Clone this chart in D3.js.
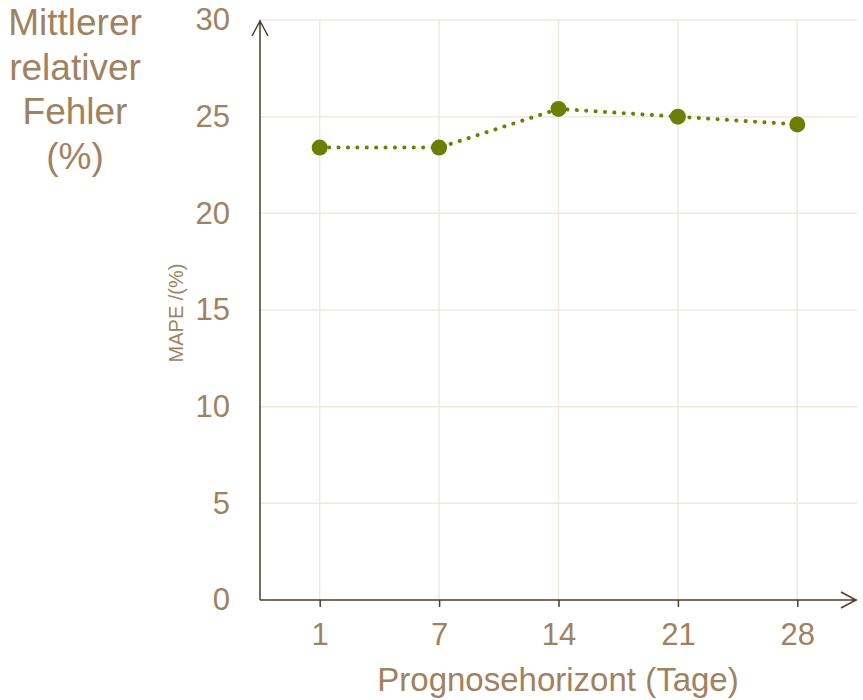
<!DOCTYPE html>
<html><head><meta charset="utf-8">
<script src="https://cdn.jsdelivr.net/npm/d3@7"></script>
<style>body{margin:0;background:#fff}svg{display:block}</style>
</head><body>
<script>
const categories = ["1","7","14","21","28"];
const values = [23.4, 23.4, 25.4, 25.0, 24.6];
const yTicks = [0,5,10,15,20,25,30];
const titleLines = ["Mittlerer","relativer","Fehler","(%)"];
const xTitle = "Prognosehorizont (Tage)";
const yInnerTitle = "MAPE /(%)";

const W=863,H=700;
const textC="#a0825f", axisC="#4b3d2f", gridC="#efe9e2", lineC="#6b7f00";
const font="Arial, 'Liberation Sans', sans-serif";
const svg=d3.select("body").append("svg").attr("width",W).attr("height",H);
const x0=260,x1=857,yTop=20,yBot=600;
const x=d3.scalePoint().domain(categories).range([x0,x1]).padding(0.5);
const y=d3.scaleLinear().domain([0,30]).range([yBot,yTop]);

// grid
svg.append("g").selectAll("line").data(yTicks.filter(d=>d>0)).join("line")
 .attr("x1",x0).attr("x2",x1).attr("y1",d=>y(d)).attr("y2",d=>y(d))
 .attr("stroke",gridC).attr("stroke-width",1.5);
svg.append("g").selectAll("line").data(categories).join("line")
 .attr("x1",d=>x(d)).attr("x2",d=>x(d)).attr("y1",yTop).attr("y2",yBot)
 .attr("stroke",gridC).attr("stroke-width",1.5);

// y axis
const ya=svg.append("g").attr("transform",`translate(${x0},0)`)
 .call(d3.axisLeft(y).tickValues(yTicks).tickSize(0).tickPadding(30));
ya.select(".domain").remove();
ya.selectAll("text").attr("fill",textC).attr("font-size",31).attr("font-family",font);
// x axis
const xa=svg.append("g").attr("transform",`translate(0,${yBot})`)
 .call(d3.axisBottom(x).tickSize(7).tickPadding(16));
xa.select(".domain").remove();
xa.selectAll("line").attr("stroke",axisC).attr("stroke-width",1.5);
xa.selectAll("text").attr("fill",textC).attr("font-size",31).attr("font-family",font);

// axis lines with arrows
svg.append("path").attr("d",`M${x0},${yBot}V${yTop}M${x0-8},${yTop+16}L${x0},${yTop+1}L${x0+8},${yTop+16}`)
 .attr("fill","none").attr("stroke",axisC).attr("stroke-width",1.5);
svg.append("path").attr("d",`M${x0},${yBot}H${x1}M${x1-16},${yBot-8}L${x1-1},${yBot}L${x1-16},${yBot+8}`)
 .attr("fill","none").attr("stroke",axisC).attr("stroke-width",1.5);

// line
const data=categories.map((c,i)=>({c,v:values[i]}));
svg.append("path").datum(data)
 .attr("d",d3.line().x(d=>x(d.c)).y(d=>y(d.v)))
 .attr("fill","none").attr("stroke",lineC).attr("stroke-width",4)
 .attr("stroke-linecap","round").attr("stroke-dasharray","0.1 9.3");
svg.append("g").selectAll("circle").data(data).join("circle")
 .attr("cx",d=>x(d.c)).attr("cy",d=>y(d.v)).attr("r",8).attr("fill",lineC);

// titles
const t=svg.append("text").attr("fill",textC).attr("font-size",37).attr("font-family",font)
 .attr("text-anchor","middle");
titleLines.forEach((l,i)=>t.append("tspan").attr("x",75).attr("y",35+i*44.5).text(l));
svg.append("text").attr("x",558).attr("y",691).attr("text-anchor","middle")
 .attr("fill",textC).attr("font-size",33).attr("font-family",font).text(xTitle);
svg.append("text").attr("transform",`translate(183,313) rotate(-90)`).attr("text-anchor","middle")
 .attr("fill",textC).attr("font-size",20).attr("font-family",font).text(yInnerTitle);
</script>
</body></html>
